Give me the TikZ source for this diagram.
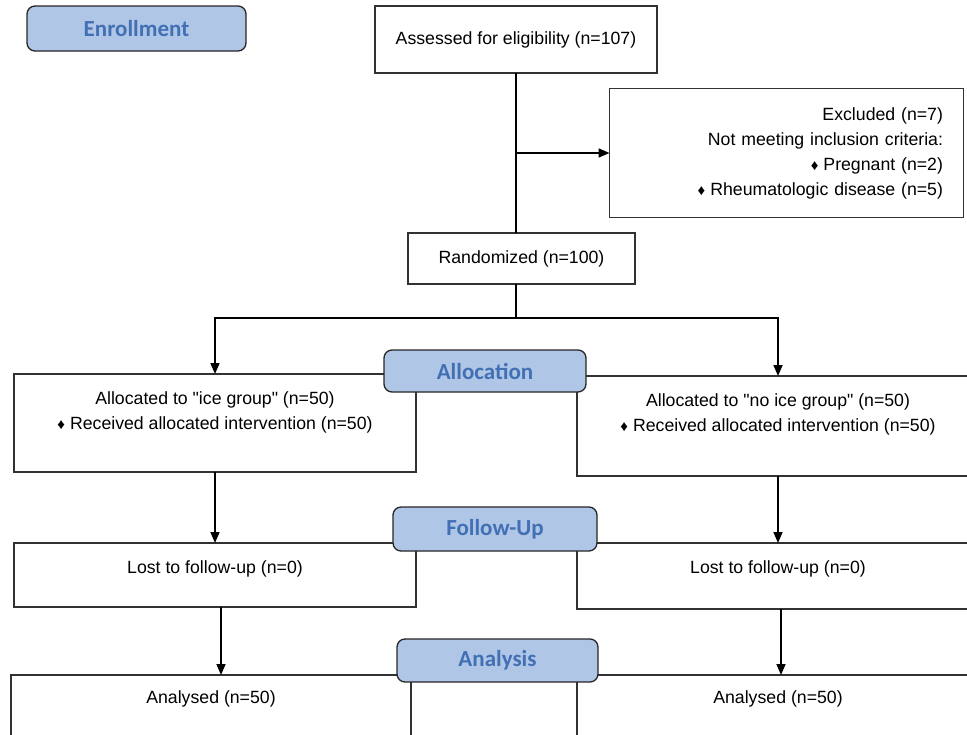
\documentclass[tikz,border=0pt]{standalone}
\usepackage{fontspec}
\setmainfont{Liberation Sans}
\newfontfamily\headfont{Carlito}
\usetikzlibrary{calc,arrows.meta}

\definecolor{headfill}{RGB}{176,198,230}
\definecolor{headtext}{RGB}{66,112,180}
\definecolor{boxline}{RGB}{50,50,50}
\newcommand{\bul}{{\fontsize{15}{15}\selectfont ♦}\hspace{5pt}}
\newcommand{\dq}{\textquotedbl}

\begin{document}
\begin{tikzpicture}[
    x=1pt, y=-1pt,
    font=\fontsize{17.7}{25}\selectfont,
    >={Triangle[width=9pt,length=11pt]},
    box/.style={draw=boxline, line width=1.3pt, rectangle, inner sep=0pt, outer sep=0pt, align=center},
    head/.style={draw=black!85, line width=1.3pt, rounded corners=8pt, fill=headfill, text=headtext,
        inner sep=0pt, font=\headfont\bfseries\fontsize{23}{23}\selectfont},
    link/.style={line width=1.6pt, black}
]
    \useasboundingbox (0,0) rectangle (967,734);
    \clip (0,0) rectangle (967,734);

    % Enrollment
    \node[box, minimum width=282, minimum height=67] (assessed) at (516,39.5) {Assessed for eligibility (n=107)};
    \node[box, minimum width=354, minimum height=129, text width=313, align=right] (excluded) at (786.5,153)
        {Excluded (n=7)\\Not meeting inclusion criteria:\\\bul Pregnant (n=2)\\\bul Rheumatologic disease (n=5)};
    \node[box, minimum width=227, minimum height=51] (random) at (521.5,258.5) {Randomized (n=100)};

    % Allocation
    \node[box, minimum width=402, minimum height=98] (allocL) at (215,423) {};
    \node[box, minimum width=402, minimum height=100] (allocR) at (778,426) {};
    \node[align=center] (allocLT) at ($(allocL.north) + (0,38.5)$)
        {Allocated to \dq ice group\dq{} (n=50)\\\bul Received allocated intervention (n=50)};
    \node[align=center] (allocRT) at ($(allocR.north) + (0,38)$)
        {Allocated to \dq no ice group\dq{} (n=50)\\\bul Received allocated intervention (n=50)};

    % Follow-up
    \node[box, minimum width=402, minimum height=64] (lostL) at (215,575) {};
    \node[box, minimum width=402, minimum height=66] (lostR) at (778,576) {};
    \node (lostLT) at ($(lostL.north) + (0,26)$) {Lost to follow-up (n=0)};
    \node (lostRT) at ($(lostR.north) + (0,26)$) {Lost to follow-up (n=0)};

    % Analysis (boxes run past the bottom edge)
    \node[box, minimum width=400, minimum height=125] (analysedL) at (211,737.5) {};
    \node[box, minimum width=402, minimum height=125] (analysedR) at (778,737.5) {};
    \node (analysedLT) at ($(analysedL.north) + (0,24)$) {Analysed (n=50)};
    \node (analysedRT) at ($(analysedR.north) + (0,24)$) {Analysed (n=50)};

    % Connectors
    \draw[link] (assessed.south) -- (assessed.south |- random.north);
    \draw[link,->] (assessed.south |- excluded.west) -- (excluded.west);
    \coordinate (split) at ($(assessed.south |- random.south) + (0,34)$);
    \draw[link] (assessed.south |- random.south) -- (split);
    \draw[link,->] (split) -- (split -| allocL.north) -- (allocL.north);
    \draw[link,->] (split) -- (split -| allocR.north) -- (allocR.north);
    \draw[link,->] (allocL.south) -- (lostL.north);
    \draw[link,->] (allocR.south) -- (lostR.north);
    \coordinate (lostLout) at ($(lostL.south) + (6,0)$);
    \coordinate (lostRout) at ($(lostR.south) + (3,0)$);
    \draw[link,->] (lostLout) -- (lostLout |- analysedL.north);
    \draw[link,->] (lostRout) -- (lostRout |- analysedR.north);

    % Stage headers
    \node[head, minimum width=219, minimum height=45] (enrollH) at (136.5,28.5) {Enrollment};
    \node[head, minimum width=202, minimum height=42] (allocH) at (485,371) {Allocation};
    \node[head, minimum width=204, minimum height=44] (followH) at (495,529) {Follow-Up};
    \node[head, minimum width=201, minimum height=43] (analysisH) at (497.5,660.5) {Analysis};
\end{tikzpicture}
\end{document}
